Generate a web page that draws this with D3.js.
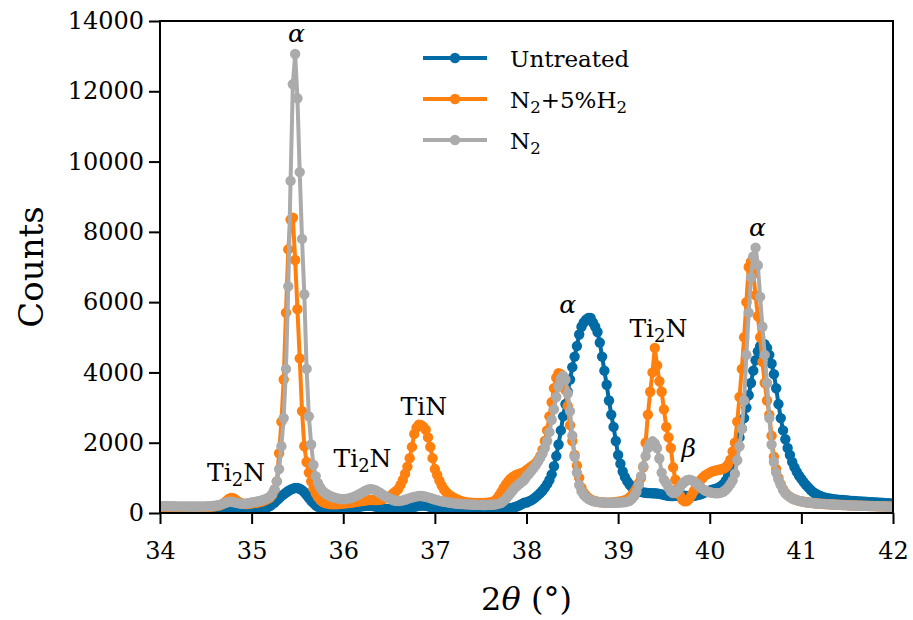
<!DOCTYPE html>
<html>
<head>
<meta charset="utf-8">
<script src="https://cdn.jsdelivr.net/npm/d3@7"></script>
<style>
body{margin:0;background:#fff;}
svg text{font-family:"DejaVu Serif",serif;}
</style>
</head>
<body>
<svg id="svg" width="913" height="620"></svg>
<script>
// scan grid: 2theta from 34 to 42 deg, 0.025 deg step
var thetaStart = 34;
var thetaStep = 0.025;

// counts, one line per half degree (34.0, 34.5, ... 41.5) plus the 42.0 point
var untreated = [
 110,108,107,106,105,104,104,103,103,102,102,102,101,101,101,100,100,100,100,100,
 100,100,100,100,100,100,101,101,102,102,103,103,104,104,105,105,106,107,108,110,
 112,115,118,122,128,136,150,170,200,245,300,360,420,480,530,580,625,665,695,710,
 710,690,650,590,510,430,350,280,220,175,145,125,112,104,98,94,92,92,94,98,
 102,108,115,124,135,148,162,175,188,198,205,208,205,196,182,166,150,136,124,116,
 110,106,104,104,106,110,116,124,134,146,160,175,190,202,210,212,206,194,178,160,
 144,130,118,108,100,94,88,84,80,77,75,73,72,71,70,70,70,70,71,72,
 73,74,76,78,80,83,86,90,95,101,108,116,126,138,152,170,192,220,255,295,
 300,330,360,400,450,510,570,640,720,820,940,1100,1330,1620,1950,2350,2750,3100,3450,3800,
 4150,4450,4750,5080,5300,5420,5500,5550,5550,5420,5300,5150,4850,4450,4050,3650,3200,2800,2450,2050,
 1650,1400,1180,1020,900,810,740,690,650,620,600,585,575,568,565,563,560,555,545,530,
 515,500,490,485,485,488,492,495,495,492,488,485,485,490,500,515,535,560,590,620,
 640,660,680,700,730,770,830,920,1050,1220,1420,1650,1900,2150,2400,2700,3000,3350,3700,4050,
 4350,4600,4750,4800,4800,4700,4500,4250,3950,3550,3100,2700,2350,2100,1850,1650,1450,1300,1170,1060,
 970,880,800,730,660,600,555,520,490,465,445,428,415,405,396,388,381,374,368,362,
 356,351,346,341,336,331,326,322,318,314,310,306,302,298,294,290,286,282,278,274,
 270
];

var n2h2 = [
 175,172,170,169,168,167,167,166,166,165,165,165,164,164,164,164,165,166,168,170,
 173,176,180,186,194,205,220,245,285,340,400,430,420,380,330,290,265,255,255,262,
 272,282,292,305,320,340,365,395,440,520,650,900,1700,2600,3800,5700,7500,8350,8400,7200,
 5800,4400,2900,1900,1450,1150,900,700,560,450,370,320,290,270,258,250,248,250,255,262,
 270,278,285,292,300,310,320,330,340,350,360,368,372,372,370,370,375,390,410,440,
 460,510,570,620,680,800,940,1120,1320,1560,1880,2250,2430,2510,2500,2450,2370,2150,1880,1560,
 1250,1080,920,780,670,590,530,480,440,405,375,350,330,315,303,295,290,287,285,284,
 284,285,287,292,300,315,345,400,490,600,710,810,900,970,1025,1065,1095,1118,1140,1170,
 1220,1270,1320,1370,1420,1500,1620,1800,2050,2350,2750,3150,3550,3850,3980,3950,3850,3500,3050,2500,
 2050,1650,1350,1000,720,580,490,425,385,355,335,320,310,302,298,296,296,298,302,310,
 318,330,345,365,395,440,510,600,700,850,1000,1300,2000,2800,3450,4000,4700,4200,3750,3450,
 2950,2450,2150,1850,1300,950,700,500,380,330,340,400,500,620,740,850,940,1010,1070,1110,
 1150,1180,1200,1215,1230,1245,1265,1300,1380,1520,1750,2000,2600,3300,4100,5000,6000,7000,7150,6800,
 6200,5600,5000,4300,3700,3200,2800,2200,1600,1250,1000,820,680,580,510,460,420,390,365,345,
 330,318,308,300,292,285,278,272,267,262,257,253,249,245,241,238,235,232,229,226,
 223,220,218,215,213,211,209,207,205,203,201,199,197,195,193,191,189,187,185,183,
 181
];

var n2 = [
 200,197,195,193,192,190,190,189,188,188,187,187,186,186,186,185,185,185,186,187,
 188,190,194,200,208,218,232,252,275,300,316,320,310,295,280,270,265,268,275,285,
 298,310,322,336,352,372,395,425,465,540,680,900,1250,1900,2700,4100,6450,9450,12200,13060,
 11800,9700,7800,6220,4100,2750,1950,1370,1050,850,720,630,570,525,490,462,440,422,408,398,
 395,400,410,425,445,470,500,535,572,610,645,670,680,672,650,615,575,532,490,452,
 420,390,362,345,340,345,358,378,400,422,442,460,474,482,483,476,463,446,426,405,
 385,366,350,335,321,309,298,288,279,271,264,258,253,249,245,241,238,235,233,231,
 230,229,229,230,232,236,242,252,268,290,340,400,480,560,640,720,780,840,890,940,
 1040,1110,1190,1270,1360,1460,1570,1690,1850,2050,2300,2650,2950,3300,3600,3820,3900,3800,3400,2900,
 2200,1600,1150,800,620,520,450,400,365,340,325,315,308,302,298,295,293,292,292,293,
 295,298,302,310,325,350,400,480,600,800,1050,1330,1620,1850,1980,2040,1980,1850,1550,1150,
 950,850,720,620,570,580,640,730,820,890,930,945,935,900,850,790,730,680,640,610,
 590,575,565,560,565,580,610,660,730,820,930,1120,1500,1900,2400,3200,4500,5700,6700,7300,
 7550,7050,6150,5300,4500,3700,2700,1950,1450,1150,950,800,660,560,500,460,420,390,365,345,
 330,318,308,300,292,285,278,272,266,261,256,252,248,244,240,236,233,230,227,224,
 221,218,216,213,211,208,206,204,202,200,198,196,194,192,190,188,186,184,182,180,
 178
];

var xTicks = [34,35,36,37,38,39,40,41,42];
var yTicks = [0,2000,4000,6000,8000,10000,12000,14000];

var seriesKeys = ["untreated","n2h2","n2"];
var seriesColors = ["#006BA4","#FF800E","#ABABAB"];

// peak annotations: label, 2theta, counts (text baseline)
var peakText = ["α","Ti2N","Ti2N","TiN","α","Ti2N","β","α"];
var peakTheta = [35.49,34.83,36.21,36.88,38.45,39.44,39.77,40.52];
var peakCounts = [13400,900,1300,2800,5680,5020,1600,7870];

var svg = d3.select('#svg');
var padding = {top:21, right:20, bottom:107, left:160};
var chartArea = {
    "width": 913 - padding.left - padding.right,
    "height": 620 - padding.top - padding.bottom
};

var xScale = d3.scaleLinear().domain([34,42]).range([0,chartArea.width]);
var yScale = d3.scaleLinear().domain([0,14000]).range([chartArea.height,0]);

var twoTheta = untreated.map(function(d,i){ return +(thetaStart + i*thetaStep).toFixed(3); });
var series = {untreated:untreated, n2h2:n2h2, n2:n2};

var plot = svg.append("g")
    .attr('transform','translate('+padding.left+','+padding.top+')');

plot.append("clipPath").attr("id","clip")
    .append("rect").attr("width",chartArea.width).attr("height",chartArea.height);

var line = d3.line()
    .x(function(d,i){ return xScale(twoTheta[i]); })
    .y(function(d){ return yScale(d); });

var dataGrp = plot.append("g").attr("clip-path","url(#clip)");
seriesKeys.forEach(function(k,si){
    var g = dataGrp.append("g");
    g.append("path")
        .datum(series[k])
        .attr("d",line)
        .attr("fill","none")
        .attr("stroke",seriesColors[si])
        .attr("stroke-width",4)
        .attr("stroke-linejoin","round");
    g.selectAll("circle").data(series[k]).enter()
        .append("circle")
        .attr("cx",function(d,i){ return xScale(twoTheta[i]); })
        .attr("cy",function(d){ return yScale(d); })
        .attr("r",5.2)
        .attr("fill",seriesColors[si]);
});

// axes
var xAxis = plot.append("g")
    .attr('transform','translate(0,'+chartArea.height+')')
    .call(d3.axisBottom(xScale).tickValues(xTicks).tickSize(11).tickPadding(18).tickFormat(d3.format("d")));
var yAxis = plot.append("g")
    .call(d3.axisLeft(yScale).tickValues(yTicks).tickSize(11).tickPadding(5).tickFormat(d3.format("d")));

[xAxis,yAxis].forEach(function(ax){
    ax.attr("font-family",null);
    ax.select(".domain").remove();
    ax.selectAll(".tick line").attr("stroke","#000").attr("stroke-width",2);
    ax.selectAll(".tick text")
        .attr("fill","#000")
        .style("font-size","24px");
});

plot.append("rect")
    .attr("width",chartArea.width)
    .attr("height",chartArea.height)
    .attr("fill","none")
    .attr("stroke","#000")
    .attr("stroke-width",2);

// axis labels
var xLabel = svg.append("text")
    .attr("x",padding.left + chartArea.width/2)
    .attr("y",610)
    .attr("text-anchor","middle")
    .style("font-size","32px");
xLabel.append("tspan").text("2");
xLabel.append("tspan").attr("font-style","italic").text("θ");
xLabel.append("tspan").text(" (°)");

svg.append("text")
    .attr("transform","translate(43,"+(padding.top + chartArea.height/2)+") rotate(-90)")
    .attr("text-anchor","middle")
    .style("font-size","34px")
    .text("Counts");

// sub-scripted labels like Ti2N / N2+5%H2
function subText(sel, str){
    var parts = str.split(/(2)/);
    var lowered = false;
    parts.forEach(function(p){
        if(p === "") return;
        if(p === "2" && /[A-Za-z]$/.test(sel.text())){
            sel.append("tspan").attr("dy","0.28em").style("font-size","0.72em").text("2");
            lowered = true;
        } else {
            var t = sel.append("tspan").text(p);
            if(lowered){ t.attr("dy","-0.2em"); lowered = false; }
        }
    });
}

peakText.forEach(function(txt,i){
    var t = plot.append("text")
        .attr("x",xScale(peakTheta[i]))
        .attr("y",yScale(peakCounts[i]))
        .attr("text-anchor","middle")
        .style("font-size","25px");
    if(txt === "α" || txt === "β"){
        t.attr("font-style","italic").text(txt);
    } else {
        subText(t, txt);
    }
});

// legend
var legendNames = ["Untreated","N2+5%H2","N2"];
var legend = svg.append("g");
legendNames.forEach(function(name,i){
    var y = 58 + i*41;
    legend.append("line")
        .attr("x1",423).attr("x2",487).attr("y1",y).attr("y2",y)
        .attr("stroke",seriesColors[i]).attr("stroke-width",4);
    legend.append("circle")
        .attr("cx",455).attr("cy",y).attr("r",5.2)
        .attr("fill",seriesColors[i]);
    var t = legend.append("text")
        .attr("x",510).attr("y",y+9)
        .style("font-size","23px");
    subText(t, name);
});
</script>
</body>
</html>
